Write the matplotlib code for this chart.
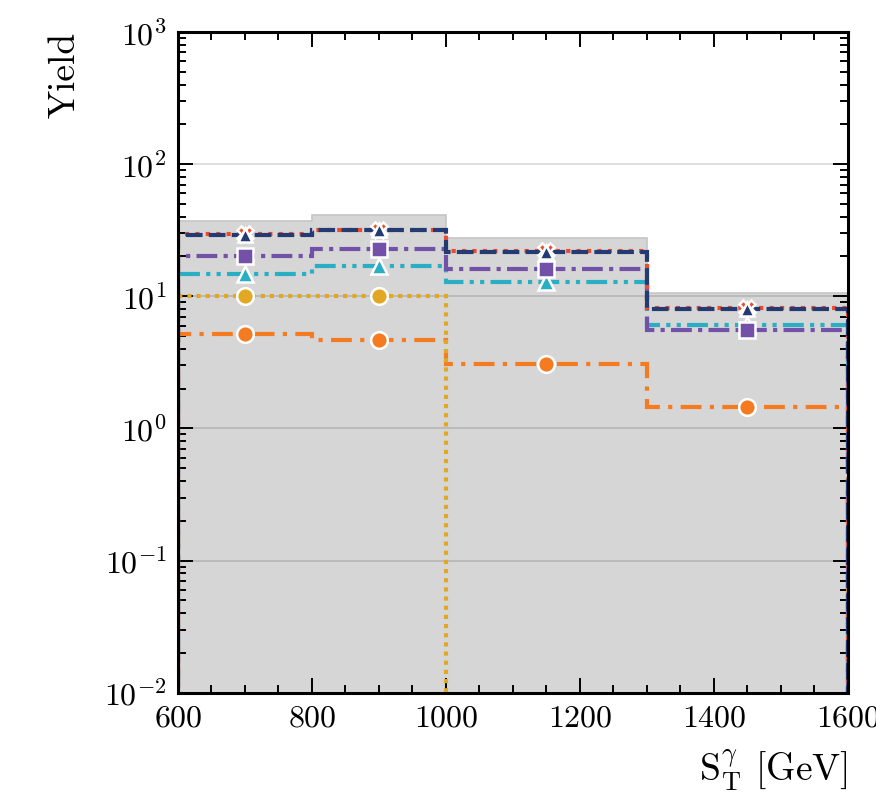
import numpy as np
import matplotlib
matplotlib.use("Agg")
import matplotlib.pyplot as plt
from matplotlib.ticker import LogLocator, MultipleLocator

plt.rcParams['font.family'] = 'serif'
plt.rcParams['font.serif'] = ['cmr10', 'DejaVu Serif']
plt.rcParams['mathtext.fontset'] = 'cm'
plt.rcParams['axes.formatter.use_mathtext'] = True

# binning in S_T^gamma
bin_edges = [600, 800, 1000, 1300, 1600]
bin_centres = [700, 900, 1150, 1450]

# yields per bin
band_top = [37.0, 41.0, 27.5, 10.5]
navy_yield = [29.0, 31.6, 21.5, 8.0]
red_yield = [29.5, 32.0, 22.0, 8.1]
purple_yield = [20.0, 22.7, 16.0, 5.6]
cyan_yield = [14.7, 17.0, 12.8, 6.1]
gold_yield = [10.0, 10.0, 0.0, 0.0]
orange_yield = [5.15, 4.7, 3.05, 1.45]

floor = 1e-4


def draw_series(ax, vals, color, ls, marker, ms, z, lw=3.0):
    vals = np.asarray(vals, dtype=float)
    ax.stairs(np.where(vals > 0, vals, floor), bin_edges, baseline=floor,
              color=color, linestyle=ls, linewidth=lw, zorder=z)
    pts = np.ma.masked_where(vals <= 0, vals)
    ax.plot(bin_centres, pts, linestyle='none', marker=marker, markersize=ms,
            color=color, markeredgecolor='white', markeredgewidth=1.8, zorder=z + 0.5)


fig = plt.figure(figsize=(8.76, 7.99), dpi=100)
ax = fig.add_axes([0.203, 0.133, 0.765, 0.827])

ax.stairs(band_top, bin_edges, baseline=floor, fill=True, color='#d6d6d6',
          linewidth=0, zorder=1)
ax.stairs(band_top, bin_edges, baseline=None, color='#c6c6c6', linewidth=1.2, zorder=1.1)

draw_series(ax, orange_yield, '#f47b20', (0, (5, 2, 1, 2)), 'o', 12, 3)
draw_series(ax, gold_yield, '#e2a824', (0, (1, 1.2)), 'o', 12, 3.2)
draw_series(ax, cyan_yield, '#29aec4', (0, (5, 1.5, 1, 1.5, 1, 1.5)), '^', 11, 3.4)
draw_series(ax, purple_yield, '#7451a8', (0, (5, 1.5, 1, 1.5)), 's', 11, 3.6)
draw_series(ax, red_yield, '#ee4b2b', (0, (1, 1.5)), 'X', 11, 3.8)
draw_series(ax, navy_yield, '#233a73', (0, (4, 1.5)), '^', 10, 4.0)

ax.set_yscale('log')
ax.set_xlim(600, 1600)
ax.set_ylim(1e-2, 1e3)
ax.set_axisbelow('line')
ax.yaxis.grid(True, which='major', color='black', alpha=0.13, linewidth=1.4)

ax.xaxis.set_major_locator(MultipleLocator(200))
ax.xaxis.set_minor_locator(MultipleLocator(50))
ax.yaxis.set_major_locator(LogLocator(base=10, numticks=10))
ax.yaxis.set_minor_locator(LogLocator(base=10, subs=np.arange(2, 10), numticks=20))
ax.tick_params(which='both', direction='in', top=True, right=True, labelsize=23, width=1.4)
ax.tick_params(which='major', length=11)
ax.tick_params(which='minor', length=5.5)
ax.tick_params(axis='x', pad=9)
ax.tick_params(axis='y', pad=8)
for sp in ax.spines.values():
    sp.set_linewidth(2.2)
    sp.set_zorder(6)

ax.set_xlabel(r'$\mathrm{S}_\mathrm{T}^\gamma$ [GeV]', fontsize=27, loc='right', labelpad=10)
ax.set_ylabel('Yield', fontsize=27, loc='top', labelpad=16)

fig.savefig('out.png', dpi=100)
